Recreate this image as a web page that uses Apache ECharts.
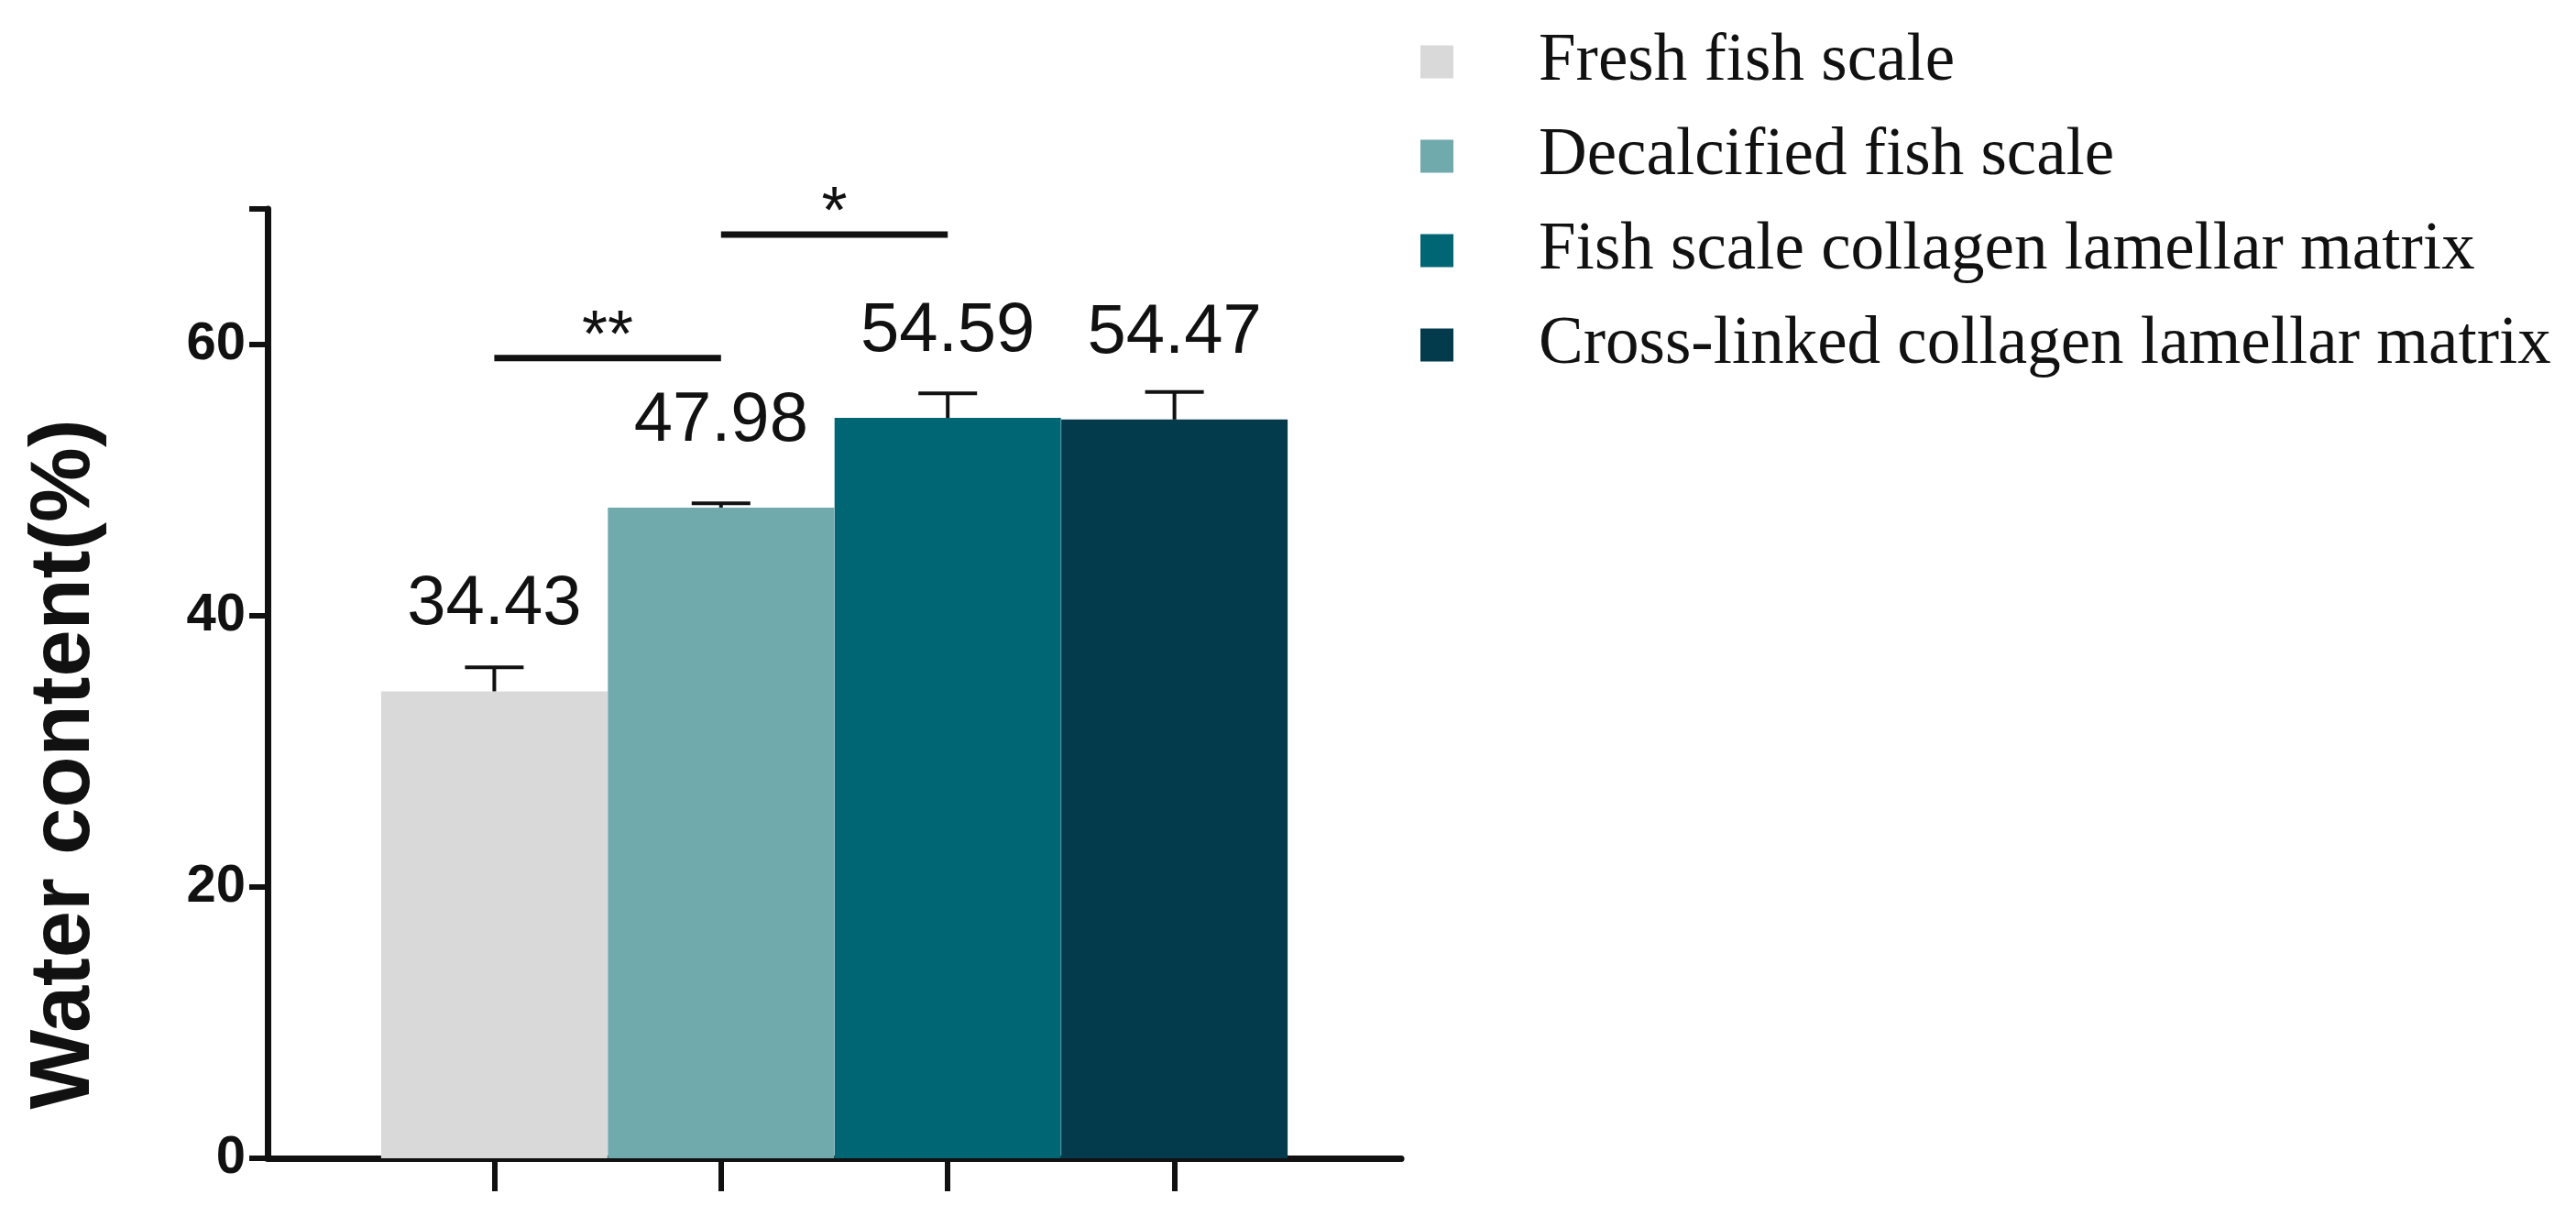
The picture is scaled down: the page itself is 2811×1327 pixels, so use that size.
<!DOCTYPE html>
<html><head><meta charset="utf-8">
<script src="https://cdn.jsdelivr.net/npm/echarts@6/dist/echarts.min.js"></script>
<style>html,body{margin:0;background:#fff}#c{width:2811px;height:1327px}</style>
</head><body><div id="c"></div>
<script>
// categories, padded with empty slots at both ends
const slots = ['', 'Fresh fish scale', 'Decalcified fish scale', 'Fish scale collagen lamellar matrix', 'Cross-linked collagen lamellar matrix', ''];
const names = slots.slice(1, 5);
const values = [34.43, 47.98, 54.59, 54.47];
const errTops = [36.2, 48.3, 56.4, 56.5];
const colors = ['#d9d9d9', '#70aaad', '#006674', '#033a4c'];
// significance brackets: [from slot, to slot, y, text]
const sigs = [[1, 2, 59.0, '**'], [2, 3, 68.1, '*']];

const chart = echarts.init(document.getElementById('c'));

const barSeries = names.map((n, i) => {
  const d = slots.map(() => '-');
  d[i + 1] = values[i];
  return {
    name: n, type: 'bar', stack: 'all', barWidth: 247, data: d,
    itemStyle: { color: colors[i] },
    label: {
      show: true, position: 'top', distance: 56,
      fontFamily: 'Liberation Sans', fontSize: 76, color: '#111',
      formatter: p => p.value.toFixed(2)
    },
    z: 2
  };
});

const errSeries = {
  type: 'custom', z: 3,
  data: values.map((v, i) => [i + 1, v, errTops[i]]),
  renderItem: (params, api) => {
    const b = api.coord([api.value(0), api.value(1)]);
    const t = api.coord([api.value(0), api.value(2)]);
    const st = { stroke: '#111', lineWidth: 4 };
    return { type: 'group', children: [
      { type: 'line', shape: { x1: b[0], y1: b[1], x2: t[0], y2: t[1] }, style: st },
      { type: 'line', shape: { x1: t[0] - 32, y1: t[1], x2: t[0] + 32, y2: t[1] }, style: st }
    ]};
  }
};

const sigSeries = {
  type: 'custom', z: 3,
  data: sigs,
  renderItem: (params, api) => {
    const s = sigs[params.dataIndex];
    const a = api.coord([s[0], s[2]]);
    const b = api.coord([s[1], s[2]]);
    return { type: 'group', children: [
      { type: 'line', shape: { x1: a[0], y1: a[1], x2: b[0], y2: b[1] }, style: { stroke: '#111', lineWidth: 7 } },
      { type: 'text', style: { text: s[3], x: (a[0] + b[0]) / 2, y: a[1] + 14, align: 'center', verticalAlign: 'bottom',
        fontFamily: 'Liberation Sans', fontSize: 72, fill: '#111' } }
    ]};
  }
};

chart.setOption({
  animation: false,
  grid: { left: 292, top: 228, width: 1237, height: 1036 },
  graphic: [{
    type: 'text', x: 72, y: 834, rotation: Math.PI / 2,
    style: { text: 'Water content(%)', align: 'center', verticalAlign: 'middle',
      fontFamily: 'Liberation Sans', fontWeight: 'bold', fontSize: 92, fill: '#111' }
  }],
  legend: {
    orient: 'vertical', left: 1545, top: 26, itemWidth: 36, itemHeight: 36, itemGap: 30,
    icon: 'rect',
    textStyle: { fontFamily: 'Liberation Serif', fontSize: 73, color: '#111', padding: [0, 0, 0, 88] },
    data: names
  },
  xAxis: {
    type: 'category', data: slots, boundaryGap: false,
    axisLine: { lineStyle: { color: '#111', width: 7 } },
    axisTick: { length: 36, lineStyle: { color: '#111', width: 6 },
      interval: i => i > 0 && i < 5 },
    axisLabel: { show: false }
  },
  yAxis: {
    type: 'value', min: 0, max: 70, interval: 20,
    axisLine: { show: true, lineStyle: { color: '#111', width: 7 } },
    axisTick: { show: true, length: 20, lineStyle: { color: '#111', width: 6 } },
    axisLabel: { fontFamily: 'Liberation Sans', fontWeight: 'bold', fontSize: 58, color: '#111', margin: 24,
      formatter: v => v > 60 ? '' : v },
    splitLine: { show: false }
  },
  series: [...barSeries, errSeries, sigSeries]
});
</script></body></html>
